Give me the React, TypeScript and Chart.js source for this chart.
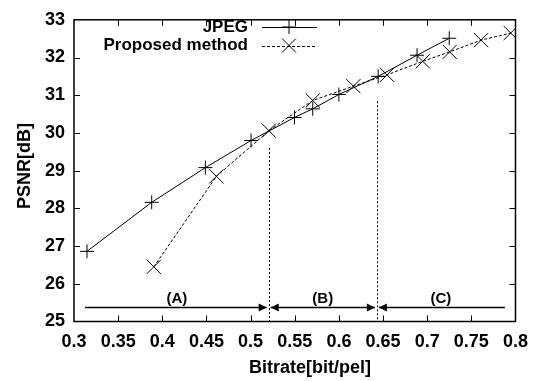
import React, { useEffect, useRef } from "react";
import { Chart, registerables } from "chart.js";

Chart.register(...registerables);

const jpegX = [0.3147, 0.388, 0.4488, 0.5005, 0.5497, 0.5704, 0.6, 0.6445, 0.6885, 0.725];
const jpegY = [26.86, 28.16, 29.08, 29.8, 30.41, 30.64, 31.02, 31.5, 32.06, 32.51];
const propX = [0.3904, 0.4613, 0.5207, 0.5704, 0.6164, 0.6545, 0.695, 0.7255, 0.761, 0.7946];
const propY = [26.45, 28.85, 30.06, 30.86, 31.24, 31.54, 31.9, 32.15, 32.46, 32.65];

const boundaryX = [0.5205, 0.643];
const boundaryTop = [29.6, 30.84];
const regionStart = 0.3125;
const regionEnd = 0.788;
const arrowY = 25.38;
const regionLabels = ["(A)", "(B)", "(C)"];

const xTicks = [0.3, 0.35, 0.4, 0.45, 0.5, 0.55, 0.6, 0.65, 0.7, 0.75, 0.8];
const yTicks = [25, 26, 27, 28, 29, 30, 31, 32, 33];

const FONT = '"Liberation Sans", Arial, Helvetica, sans-serif';

function toPts(xs: number[], ys: number[]) {
  return xs.map((x, i) => ({ x, y: ys[i] }));
}

const overlay = {
  id: "overlay",
  afterDatasetsDraw(chart: any) {
    const ctx = chart.ctx;
    const xs = chart.scales.x;
    const ys = chart.scales.y;
    const area = chart.chartArea;
    ctx.save();
    ctx.strokeStyle = "#000";
    ctx.fillStyle = "#000";

    // frame
    ctx.lineWidth = 1.5;
    ctx.setLineDash([]);
    ctx.strokeRect(area.left, area.top, area.right - area.left, area.bottom - area.top);

    // inner ticks
    ctx.lineWidth = 1;
    const tl = 6;
    xTicks.forEach((v, i) => {
      if (i === 0 || i === xTicks.length - 1) return;
      const px = Math.round(xs.getPixelForValue(v)) + 0.5;
      ctx.beginPath();
      ctx.moveTo(px, area.bottom);
      ctx.lineTo(px, area.bottom - tl);
      ctx.moveTo(px, area.top);
      ctx.lineTo(px, area.top + tl);
      ctx.stroke();
    });
    yTicks.forEach((v, i) => {
      if (i === 0 || i === yTicks.length - 1) return;
      const py = Math.round(ys.getPixelForValue(v)) + 0.5;
      ctx.beginPath();
      ctx.moveTo(area.left, py);
      ctx.lineTo(area.left + tl, py);
      ctx.moveTo(area.right, py);
      ctx.lineTo(area.right - tl, py);
      ctx.stroke();
    });

    // vertical boundaries
    ctx.setLineDash([2, 2]);
    boundaryX.forEach((bx, i) => {
      const px = Math.round(xs.getPixelForValue(bx)) + 0.5;
      ctx.beginPath();
      ctx.moveTo(px, ys.getPixelForValue(boundaryTop[i]));
      ctx.lineTo(px, area.bottom);
      ctx.stroke();
    });
    ctx.setLineDash([]);

    // arrows
    const ay = Math.round(ys.getPixelForValue(arrowY)) + 0.5;
    const pts = [regionStart, boundaryX[0], boundaryX[1], regionEnd].map((v) => xs.getPixelForValue(v));
    const gap = 2;
    const head = (tipX: number, dir: number) => {
      ctx.beginPath();
      ctx.moveTo(tipX, ay);
      ctx.lineTo(tipX - dir * 8, ay - 4);
      ctx.lineTo(tipX - dir * 8, ay + 4);
      ctx.closePath();
      ctx.fill();
    };
    ctx.lineWidth = 1.5;
    // A
    ctx.beginPath();
    ctx.moveTo(pts[0], ay);
    ctx.lineTo(pts[1] - gap, ay);
    ctx.stroke();
    head(pts[1] - gap, 1);
    // B
    ctx.beginPath();
    ctx.moveTo(pts[1] + gap, ay);
    ctx.lineTo(pts[2] - gap, ay);
    ctx.stroke();
    head(pts[1] + gap, -1);
    head(pts[2] - gap, 1);
    // C
    ctx.beginPath();
    ctx.moveTo(pts[2] + gap, ay);
    ctx.lineTo(pts[3], ay);
    ctx.stroke();
    head(pts[2] + gap, -1);

    // region labels
    ctx.font = `bold 15px ${FONT}`;
    ctx.textAlign = "center";
    ctx.textBaseline = "middle";
    const centers = [
      (pts[0] + pts[1]) / 2 + 0,
      (pts[1] + pts[2]) / 2,
      (pts[2] + pts[3]) / 2,
    ];
    regionLabels.forEach((t, i) => ctx.fillText(t, centers[i], ay - 9));

    // legend
    ctx.font = `bold 17px ${FONT}`;
    ctx.textAlign = "right";
    const lx0 = 262;
    const lx1 = 317;
    const lm = 289;
    const rows = [
      { label: "JPEG", y: 27, dash: [] as number[], marker: "plus" },
      { label: "Proposed method", y: 45.5, dash: [3, 2], marker: "x" },
    ];
    rows.forEach((r) => {
      ctx.fillText(r.label, 248, r.y);
      ctx.lineWidth = 1;
      ctx.setLineDash(r.dash);
      ctx.beginPath();
      ctx.moveTo(lx0, Math.round(r.y) + 0.5);
      ctx.lineTo(lx1, Math.round(r.y) + 0.5);
      ctx.stroke();
      ctx.setLineDash([]);
      ctx.beginPath();
      if (r.marker === "plus") {
        ctx.moveTo(lm - 7, r.y);
        ctx.lineTo(lm + 7, r.y);
        ctx.moveTo(lm, r.y - 7);
        ctx.lineTo(lm, r.y + 7);
      } else {
        ctx.moveTo(lm - 7, r.y - 7);
        ctx.lineTo(lm + 7, r.y + 7);
        ctx.moveTo(lm - 7, r.y + 7);
        ctx.lineTo(lm + 7, r.y - 7);
      }
      ctx.stroke();
    });

    // axis titles
    ctx.font = `bold 18px ${FONT}`;
    ctx.textAlign = "center";
    ctx.textBaseline = "middle";
    ctx.fillText("Bitrate[bit/pel]", 310, 368);
    ctx.translate(25, 166);
    ctx.rotate(-Math.PI / 2);
    ctx.fillText("PSNR[dB]", 0, 0);
    ctx.restore();
  },
};

export default function App() {
  const ref = useRef<HTMLCanvasElement | null>(null);
  useEffect(() => {
    if (!ref.current) return;
    const chart = new Chart(ref.current, {
      type: "scatter",
      data: {
        datasets: [
          {
            label: "JPEG",
            data: toPts(jpegX, jpegY),
            showLine: true,
            borderColor: "#000",
            borderWidth: 1,
            backgroundColor: "#000",
            pointStyle: "cross",
            pointRadius: 7,
            pointHoverRadius: 7,
            pointBorderWidth: 1,
            pointBorderColor: "#000",
          },
          {
            label: "Proposed method",
            data: toPts(propX, propY),
            showLine: true,
            borderColor: "#000",
            borderWidth: 1,
            borderDash: [3, 2],
            backgroundColor: "#000",
            pointStyle: "crossRot",
            pointRadius: 10,
            pointHoverRadius: 10,
            pointBorderWidth: 1,
            pointBorderColor: "#000",
          },
        ],
      },
      options: {
        responsive: false,
        animation: false,
        events: [],
        layout: { padding: { top: 13.5, right: 21.5, left: 0, bottom: 0 } },
        plugins: { legend: { display: false }, tooltip: { enabled: false } },
        scales: {
          x: {
            type: "linear",
            min: 0.3,
            max: 0.8,
            border: { display: false },
            grid: { display: false, drawTicks: false },
            afterBuildTicks: (s: any) => {
              s.ticks = xTicks.map((v) => ({ value: v }));
            },
            afterFit: (s: any) => {
              s.height = 59.5;
            },
            ticks: {
              padding: 10,
              color: "#000",
              maxRotation: 0,
              autoSkip: false,
              font: { family: FONT, size: 18, weight: "bold" },
              callback: (v: any) => String(Number(Number(v).toFixed(2))),
            },
          },
          y: {
            type: "linear",
            min: 25,
            max: 33,
            border: { display: false },
            grid: { display: false, drawTicks: false },
            afterBuildTicks: (s: any) => {
              s.ticks = yTicks.map((v) => ({ value: v }));
            },
            afterFit: (s: any) => {
              s.width = 74;
            },
            ticks: {
              padding: 9,
              color: "#000",
              autoSkip: false,
              font: { family: FONT, size: 18, weight: "bold" },
              callback: (v: any) => String(v),
            },
          },
        },
      },
      plugins: [overlay],
    } as any);
    return () => chart.destroy();
  }, []);
  return (
    <div style={{ position: "absolute", left: 0, top: 0, width: 538, height: 381, background: "#fff" }}>
      <canvas ref={ref} width={538} height={381} style={{ display: "block" }} />
    </div>
  );
}
